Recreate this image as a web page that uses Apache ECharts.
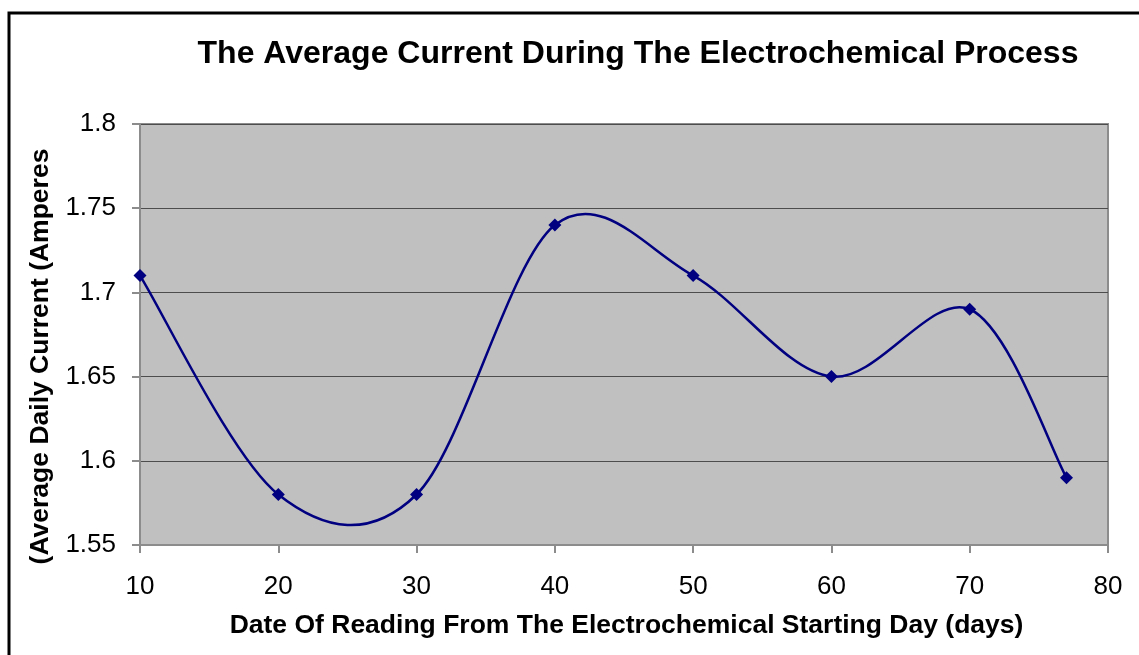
<!DOCTYPE html>
<html>
<head>
<meta charset="utf-8">
<script src="https://cdn.jsdelivr.net/npm/echarts@6/dist/echarts.min.js"></script>
<style>
  html, body { margin: 0; padding: 0; background: #ffffff; }
  #chart { width: 1139px; height: 655px; }
</style>
</head>
<body>
<div id="chart"></div>
<script>
// Reading day (days since the electrochemical start) and average daily current (A)
const days = [10, 20, 30, 40, 50, 60, 70, 77];
const currents = [1.71, 1.58, 1.58, 1.74, 1.71, 1.65, 1.69, 1.59];

const xTicks = [10, 20, 30, 40, 50, 60, 70, 80];
const yTicks = [1.55, 1.6, 1.65, 1.7, 1.75, 1.8];

const font = '"Liberation Sans", Arial, sans-serif';
const lineColor = '#000080';
const chart = echarts.init(document.getElementById('chart'));

// Smoothed connector: one cubic Bezier per segment, control points taken
// from the neighbouring readings (Catmull-Rom tangents, 1/6 factor).
function renderSegment(params, api) {
  const i = params.dataIndex;
  const n = days.length;
  if (i >= n - 1) return null;
  const pt = k => {
    const j = Math.max(0, Math.min(n - 1, k));
    return api.coord([days[j], currents[j]]);
  };
  const p0 = pt(i - 1), p1 = pt(i), p2 = pt(i + 1), p3 = pt(i + 2);
  return {
    type: 'bezierCurve',
    shape: {
      x1: p1[0], y1: p1[1],
      x2: p2[0], y2: p2[1],
      cpx1: p1[0] + (p2[0] - p0[0]) / 6,
      cpy1: p1[1] + (p2[1] - p0[1]) / 6,
      cpx2: p2[0] - (p3[0] - p1[0]) / 6,
      cpy2: p2[1] - (p3[1] - p1[1]) / 6
    },
    style: { fill: 'none', stroke: lineColor, lineWidth: 2.5 }
  };
}

chart.setOption({
  backgroundColor: '#ffffff',
  animation: false,
  title: {
    text: 'The Average Current During The Electrochemical Process',
    left: 633,
    top: 33,
    textAlign: 'center',
    textStyle: { fontFamily: font, fontSize: 32, fontWeight: 'bold', color: '#000000' }
  },
  graphic: [
    {
      type: 'rect',
      shape: { x: 9, y: 13, width: 1160, height: 680 },
      style: { fill: 'none', stroke: '#000000', lineWidth: 3 },
      silent: true
    }
  ],
  grid: {
    left: 140, right: 31, top: 124, bottom: 110,
    show: true,
    backgroundColor: '#c0c0c0',
    borderColor: '#8c8c8c',
    borderWidth: 2
  },
  xAxis: {
    type: 'value',
    min: xTicks[0],
    max: xTicks[xTicks.length - 1],
    interval: 10,
    name: 'Date Of Reading From The Electrochemical Starting Day (days)',
    nameLocation: 'middle',
    nameGap: 67,
    nameTextStyle: { fontFamily: font, fontSize: 26.5, fontWeight: 'bold', color: '#000000', padding: [0, 0, 0, 5] },
    axisLine: { show: true, lineStyle: { color: '#8c8c8c', width: 2 } },
    axisTick: { show: true, length: 8, lineStyle: { color: '#8c8c8c', width: 2 } },
    axisLabel: { fontFamily: font, fontSize: 26, color: '#000000', margin: 29 },
    splitLine: { show: false }
  },
  yAxis: {
    type: 'value',
    min: yTicks[0],
    max: yTicks[yTicks.length - 1],
    interval: 0.05,
    name: '(Average Daily Current (Amperes',
    nameLocation: 'middle',
    nameGap: 80,
    nameRotate: 90,
    nameTextStyle: { fontFamily: font, fontSize: 26.5, fontWeight: 'bold', color: '#000000', padding: [0, 44, 0, 0] },
    axisLine: { show: true, lineStyle: { color: '#8c8c8c', width: 2 } },
    axisTick: { show: true, length: 8, lineStyle: { color: '#8c8c8c', width: 2 } },
    axisLabel: {
      fontFamily: font, fontSize: 26, color: '#000000', margin: 24,
      formatter: v => String(Math.round(v * 100) / 100)
    },
    splitLine: { show: true, lineStyle: { color: '#4d4d4d', width: 1 } }
  },
  series: [
    {
      type: 'custom',
      renderItem: renderSegment,
      data: days.map((d, i) => [d, currents[i]]),
      encode: { x: 0, y: 1 },
      z: 2
    },
    {
      type: 'scatter',
      data: days.map((d, i) => [d, currents[i]]),
      symbol: 'diamond',
      symbolSize: 13,
      itemStyle: { color: lineColor, opacity: 1 },
      z: 3
    }
  ]
});
</script>
</body>
</html>
